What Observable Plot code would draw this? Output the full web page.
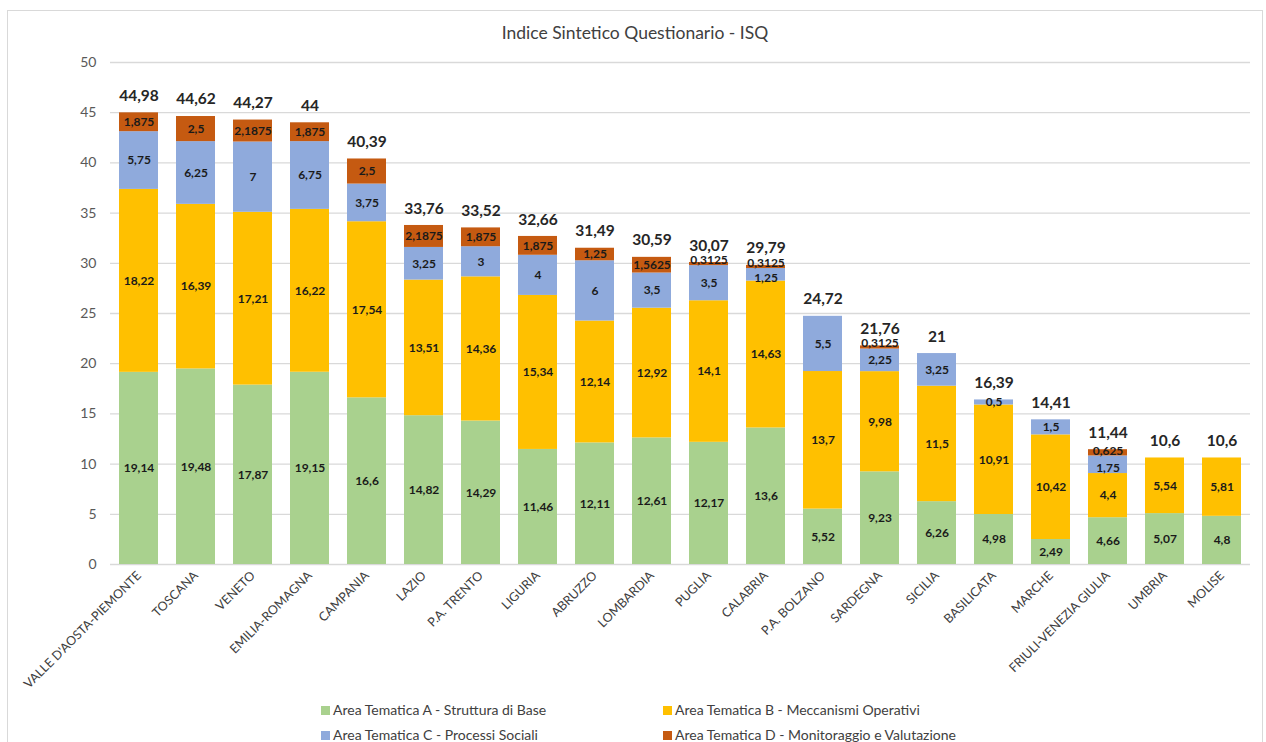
<!DOCTYPE html>
<html>
<head>
<meta charset="utf-8">
<script src="https://cdn.jsdelivr.net/npm/d3@7"></script>
<script src="https://cdn.jsdelivr.net/npm/@observablehq/plot@0.6"></script>
<style>
  html, body { margin: 0; padding: 0; background: #fff; }
  #wrap { position: relative; width: 1266px; height: 742px; overflow: hidden; font-family: Lato, "Open Sans", sans-serif; }
  #frame { position: absolute; left: 7px; top: 10px; width: 1256px; height: 740px; border: 1px solid #d9d9d9; box-sizing: border-box; }
  #chart { position: absolute; left: 0; top: 0; }
  #title { position: absolute; left: 0; width: 1270px; top: 22px; text-align: center; font-size: 17.5px; color: #404040; }
  .leg { position: absolute; font-size: 14px; color: #404040; white-space: nowrap; line-height: 16px; }
  .sw { display: inline-block; width: 9px; height: 9px; margin-right: 3px; vertical-align: 0px; }
</style>
</head>
<body>
<div id="wrap">
  <div id="frame"></div>
  <div id="chart"></div>
  <div id="title">Indice Sintetico Questionario - ISQ</div>
  <div id="legend"></div>
</div>
<script>
const regions = ["VALLE D'AOSTA-PIEMONTE","TOSCANA","VENETO","EMILIA-ROMAGNA","CAMPANIA","LAZIO","P.A. TRENTO","LIGURIA","ABRUZZO","LOMBARDIA","PUGLIA","CALABRIA","P.A. BOLZANO","SARDEGNA","SICILIA","BASILICATA","MARCHE","FRIULI-VENEZIA GIULIA","UMBRIA","MOLISE"];
const seriesNames = ["Area Tematica A - Struttura di Base","Area Tematica B - Meccanismi Operativi","Area Tematica C - Processi Sociali","Area Tematica D - Monitoraggio e Valutazione"];
const areaA = [19.14,19.48,17.87,19.15,16.6,14.82,14.29,11.46,12.11,12.61,12.17,13.6,5.52,9.23,6.26,4.98,2.49,4.66,5.07,4.8];
const areaB = [18.22,16.39,17.21,16.22,17.54,13.51,14.36,15.34,12.14,12.92,14.1,14.63,13.7,9.98,11.5,10.91,10.42,4.4,5.54,5.81];
const areaC = [5.75,6.25,7,6.75,3.75,3.25,3,4,6,3.5,3.5,1.25,5.5,2.25,3.25,0.5,1.5,1.75,0,0];
const areaD = [1.875,2.5,2.1875,1.875,2.5,2.1875,1.875,1.875,1.25,1.5625,0.3125,0.3125,0,0.3125,0,0,0,0.625,0,0];
const totals = [44.98,44.62,44.27,44,40.39,33.76,33.52,32.66,31.49,30.59,30.07,29.79,24.72,21.76,21,16.39,14.41,11.44,10.6,10.6];
const yTicks = [0,5,10,15,20,25,30,35,40,45,50];
const colors = ["#A9D18E","#FFC000","#8FAADC","#C55A11"];

const allSeries = [areaA, areaB, areaC, areaD];
const rows = [];
regions.forEach((r, i) => {
  allSeries.forEach((s, k) => rows.push({region: r, serie: seriesNames[k], k, value: s[i], dAbove: areaD[i]}));
});
const fmt = v => String(v).replace(".", ",");
const totalRows = regions.map((r, i) => ({region: r, total: totals[i]}));
const labelStyle = {fontSize: 12, fontWeight: "bold", fill: "#1a1a1a"};

// label groups (to avoid collisions between thin stacked segments)
const isTinyD = d => d.k === 3 && d.value > 0 && d.value < 0.5;
const isSmallD = d => d.k === 3 && d.value >= 0.5 && d.value < 1;
const isSqueezedC = d => d.k === 2 && d.value > 0 && d.value <= 1.75 && d.dAbove > 0;
const isNormal = d => d.value > 0 && !isTinyD(d) && !isSmallD(d) && !isSqueezedC(d);
const labelMark = (test, dy) => Plot.text(rows, Plot.stackY({
  x: "region", y: "value",
  text: d => test(d) ? fmt(d.value) : "",
  dy,
  ...labelStyle
}));

const chart = Plot.plot({
  width: 1266,
  height: 742,
  marginTop: 62,
  marginBottom: 178,
  marginLeft: 110,
  marginRight: 16,
  style: {fontFamily: "Lato, 'Open Sans', sans-serif", background: "transparent"},
  x: {domain: regions, paddingInner: 0.32, paddingOuter: 0.16, label: null},
  y: {domain: [0, 50], label: null},
  color: {domain: seriesNames, range: colors},
  marks: [
    Plot.ruleY(yTicks, {stroke: "#d9d9d9", strokeWidth: 1.3}),
    Plot.axisY({ticks: yTicks, tickSize: 0, tickPadding: 14, fontSize: 14, color: "#595959", label: null}),
    Plot.axisX({tickSize: 0, tickRotate: -45, fontSize: 12.5, color: "#404040", tickPadding: 9, label: null}),
    Plot.barY(rows, {x: "region", y: "value", fill: "serie"}),
    labelMark(isNormal, 0),
    labelMark(isTinyD, -4),
    labelMark(isSmallD, -2),
    labelMark(isSqueezedC, 3),
    Plot.text(totalRows, {x: "region", y: "total", text: d => fmt(d.total), dy: -17, fontSize: 15.5, fontWeight: "bold", fill: "#262626"})
  ]
});
document.getElementById("chart").appendChild(chart);

const legendPos = [[321, 702],[663, 702],[321, 727],[663, 727]];
const legend = document.getElementById("legend");
seriesNames.forEach((n, k) => {
  const d = document.createElement("div");
  d.className = "leg";
  d.style.left = legendPos[k][0] + "px";
  d.style.top = legendPos[k][1] + "px";
  d.innerHTML = `<span class="sw" style="background:${colors[k]}"></span>${n}`;
  legend.appendChild(d);
});
</script>
</body>
</html>
